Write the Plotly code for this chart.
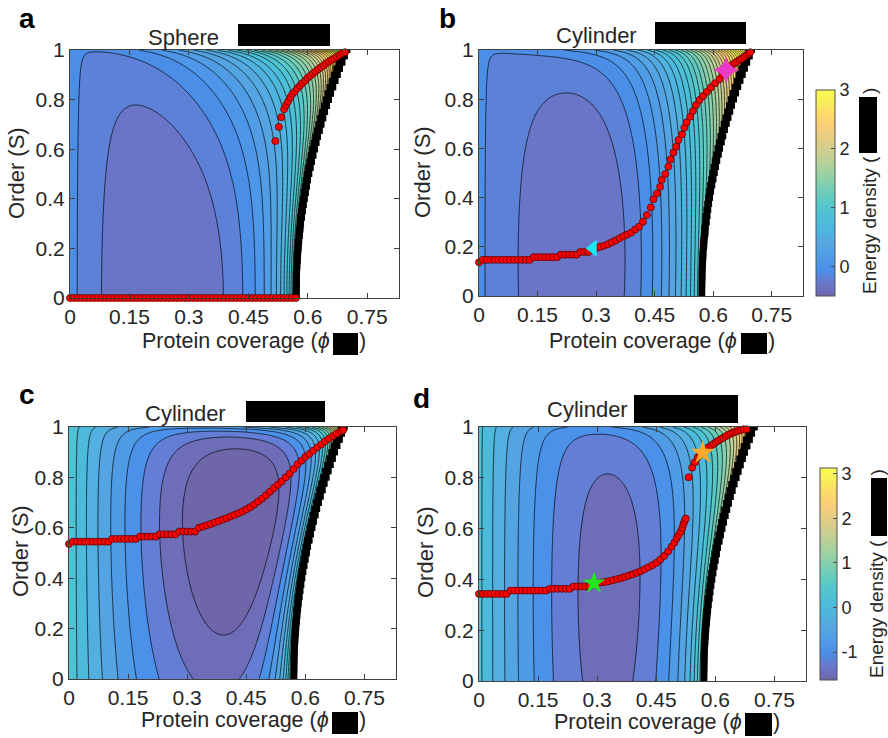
import numpy as np
import plotly.graph_objects as go

W_PX, H_PX = 888, 738

# ---------------- axis ticks ----------------
x_tickvals = [0, 0.15, 0.3, 0.45, 0.6, 0.75]
x_ticktext = ["0", "0.15", "0.3", "0.45", "0.6", "0.75"]
y_tickvals = [0, 0.2, 0.4, 0.6, 0.8, 1]
y_ticktext = ["0", "0.2", "0.4", "0.6", "0.8", "1"]

panel_letters = ["a", "b", "c", "d"]
panel_titles = ["Sphere", "Cylinder", "Cylinder", "Cylinder"]
x_label = "Protein coverage (<i>ϕ</i>"
y_label = "Order (S)"
cbar_label = "Energy density ("

# ---------------- contour-line crossings along S = 0 (coverage, energy level) ----------------
a_cross_phi = [0.018, 0.080, 0.386, 0.435, 0.469, 0.490, 0.507, 0.520, 0.532, 0.540]
a_cross_lev = [-0.125, -0.25, -0.25, -0.125, 0.0, 0.125, 0.25, 0.375, 0.5, 0.625]
b_cross_phi = [0.026, 0.082, 0.363, 0.413, 0.447, 0.468, 0.488, 0.504, 0.518, 0.531, 0.541, 0.550, 0.559, 0.567]
b_cross_lev = [-0.125, -0.25, -0.25, -0.125, 0.0, 0.125, 0.25, 0.375, 0.5, 0.625, 0.75, 0.875, 1.0, 1.125]
c_cross_phi = [0.0237, 0.0516, 0.0804, 0.1227, 0.176, 0.2225, 0.3325, 0.379, 0.495, 0.508, 0.523, 0.534, 0.542, 0.549, 0.556, 0.561]
c_cross_lev = [0.125, -0.125, -0.375, -0.625, -0.875, -1.125, -1.375, -1.375, -1.125, -0.875, -0.625, -0.375, -0.125, 0.125, 0.375, 0.625]
d_cross_phi = [0.0093, 0.036, 0.064, 0.098, 0.142, 0.189, 0.282, 0.400, 0.441, 0.480, 0.506, 0.523, 0.536, 0.546, 0.554, 0.561]
d_cross_lev = [0.125, -0.125, -0.375, -0.625, -0.875, -1.125, -1.375, -1.375, -1.125, -0.875, -0.625, -0.375, -0.125, 0.125, 0.375, 0.625]

# energy at phi = 0 and at the basin centre (S = 0), estimated from the band colours
edge_z = [-0.06, -0.06, 0.33, 0.2]
basin_phi = [0.2, 0.22, 0.355, 0.34]
basin_z = [-0.362, -0.35, -1.45, -1.47]

# orientational cost G, its growth with coverage C, and curvature/order coupling K per panel
G_vals = [0.577, 0.65, 1.8, 0.86]
C_vals = [1.5, 0.0, 0.0, 0.0]
K_vals = [0.0, 0.18, 3.0, 0.63]

# packing limit (white region): phi_max(S) = p0 + p2 * S^2
phimax_0, phimax_2 = 0.579, 0.128

# colour ranges (min, max, contour step)
crange = [(-0.5, 3.0, 0.125), (-0.5, 3.0, 0.125), (-1.625, 3.125, 0.25), (-1.625, 3.125, 0.25)]

# ---------------- minimum-energy paths (red dots) ----------------
a_low_phi = [0.00, 0.01, 0.02, 0.03, 0.04, 0.05, 0.06, 0.07, 0.08, 0.09, 0.10, 0.11, 0.12, 0.13, 0.14,
             0.15, 0.16, 0.17, 0.18, 0.19, 0.20, 0.21, 0.22, 0.23, 0.24, 0.25, 0.26, 0.27, 0.28, 0.29,
             0.30, 0.31, 0.32, 0.33, 0.34, 0.35, 0.36, 0.37, 0.38, 0.39, 0.40, 0.41, 0.42, 0.43, 0.44,
             0.45, 0.46, 0.47, 0.48, 0.49, 0.50, 0.51, 0.52, 0.53, 0.54, 0.55, 0.56, 0.57]
a_low_S = [0.0] * len(a_low_phi)
a_up_phi = [0.518, 0.527, 0.533, 0.540, 0.545, 0.550, 0.556, 0.561, 0.567, 0.573, 0.580, 0.586, 0.593, 0.599,
            0.606, 0.613, 0.619, 0.626, 0.633, 0.640, 0.646, 0.653, 0.660, 0.667, 0.673, 0.680, 0.687, 0.694]
a_up_S = [0.633, 0.690, 0.729, 0.761, 0.778, 0.792, 0.809, 0.823, 0.832, 0.845, 0.856, 0.866, 0.876, 0.887,
          0.896, 0.905, 0.913, 0.922, 0.930, 0.938, 0.946, 0.953, 0.960, 0.966, 0.973, 0.980, 0.987, 0.991]

b_phi = [0.00, 0.01, 0.02, 0.03, 0.04, 0.05, 0.06, 0.07, 0.08, 0.09, 0.10, 0.11, 0.12, 0.13, 0.14,
         0.15, 0.16, 0.17, 0.18, 0.19, 0.20, 0.21, 0.22, 0.23, 0.24, 0.25, 0.26, 0.27, 0.28, 0.29,
         0.30, 0.31, 0.32, 0.33, 0.34, 0.35, 0.36, 0.37, 0.38, 0.39, 0.40, 0.41, 0.42, 0.43, 0.44,
         0.447, 0.456, 0.464, 0.468, 0.477, 0.485, 0.491, 0.498, 0.505, 0.511, 0.520, 0.526, 0.532, 0.541,
         0.548, 0.556, 0.565, 0.574, 0.584, 0.594, 0.605, 0.616, 0.625, 0.633, 0.641, 0.648, 0.655, 0.661,
         0.668, 0.674, 0.680, 0.686, 0.691, 0.695]
b_S = [0.137, 0.147, 0.147, 0.147, 0.147, 0.147, 0.147, 0.147, 0.147, 0.147, 0.147, 0.147, 0.147, 0.147, 0.158,
       0.158, 0.158, 0.158, 0.158, 0.158, 0.158, 0.168, 0.168, 0.168, 0.168, 0.168, 0.179, 0.179, 0.179, 0.190,
       0.195, 0.200, 0.204, 0.210, 0.218, 0.226, 0.235, 0.243, 0.250, 0.258, 0.270, 0.282, 0.302, 0.329, 0.360,
       0.393, 0.417, 0.444, 0.472, 0.496, 0.526, 0.556, 0.583, 0.607, 0.634, 0.657, 0.684, 0.706, 0.729,
       0.752, 0.776, 0.797, 0.813, 0.830, 0.848, 0.865, 0.881, 0.900, 0.919, 0.929, 0.939, 0.946, 0.953,
       0.960, 0.966, 0.973, 0.980, 0.986, 0.991]

c_phi = [0.00, 0.01, 0.02, 0.03, 0.04, 0.05, 0.06, 0.07, 0.08, 0.09, 0.10, 0.11, 0.12, 0.13, 0.14,
         0.15, 0.16, 0.17, 0.18, 0.19, 0.20, 0.21, 0.22, 0.23, 0.24, 0.25, 0.26, 0.27, 0.28, 0.29,
         0.30, 0.31, 0.32, 0.33, 0.34, 0.35, 0.36, 0.37, 0.38, 0.39, 0.40, 0.41, 0.42, 0.43, 0.44,
         0.45, 0.46, 0.47, 0.48, 0.49, 0.50, 0.51, 0.52, 0.53, 0.54, 0.55, 0.56, 0.57, 0.58, 0.59,
         0.60, 0.61, 0.62, 0.63, 0.64, 0.65, 0.66, 0.67, 0.68, 0.69, 0.696]
c_S = [0.536, 0.545, 0.545, 0.545, 0.545, 0.545, 0.545, 0.545, 0.545, 0.545, 0.545, 0.556, 0.556, 0.556, 0.556,
       0.556, 0.556, 0.556, 0.565, 0.565, 0.565, 0.565, 0.565, 0.574, 0.574, 0.574, 0.574, 0.574, 0.585, 0.585,
       0.585, 0.585, 0.585, 0.600, 0.605, 0.610, 0.615, 0.621, 0.627, 0.633, 0.638, 0.645, 0.651, 0.658, 0.665,
       0.673, 0.682, 0.692, 0.704, 0.716, 0.729, 0.743, 0.758, 0.771, 0.784, 0.800, 0.815, 0.833, 0.852, 0.866,
       0.881, 0.893, 0.906, 0.919, 0.931, 0.943, 0.954, 0.964, 0.974, 0.983, 0.988]

d_low_phi = [0.00, 0.01, 0.02, 0.03, 0.04, 0.05, 0.06, 0.07, 0.08, 0.09, 0.10, 0.11, 0.12, 0.13, 0.14,
             0.15, 0.16, 0.17, 0.18, 0.19, 0.20, 0.21, 0.22, 0.23, 0.24, 0.25, 0.26, 0.27, 0.28, 0.292,
             0.30, 0.31, 0.32, 0.33, 0.34, 0.35, 0.36, 0.37, 0.38, 0.39, 0.40, 0.41, 0.42, 0.43, 0.44,
             0.45, 0.46, 0.47, 0.48, 0.489, 0.496, 0.502, 0.507, 0.512, 0.516, 0.519, 0.522, 0.525]
d_low_S = [0.343, 0.343, 0.343, 0.343, 0.343, 0.343, 0.343, 0.343, 0.356, 0.356, 0.356, 0.356, 0.356, 0.356, 0.356,
           0.356, 0.356, 0.356, 0.363, 0.363, 0.363, 0.363, 0.363, 0.363, 0.372, 0.372, 0.372, 0.372, 0.372, 0.380,
           0.385, 0.388, 0.390, 0.393, 0.397, 0.401, 0.405, 0.410, 0.415, 0.420, 0.426, 0.432, 0.440, 0.448, 0.456,
           0.465, 0.478, 0.492, 0.510, 0.529, 0.545, 0.562, 0.575, 0.588, 0.603, 0.618, 0.630, 0.640]
d_up_phi = [0.532, 0.541, 0.548, 0.555, 0.561, 0.568, 0.575, 0.582, 0.589, 0.595, 0.601, 0.607, 0.614, 0.620,
            0.627, 0.633, 0.639, 0.645, 0.652, 0.658, 0.664, 0.671, 0.679]
d_up_S = [0.802, 0.840, 0.861, 0.881, 0.890, 0.899, 0.910, 0.920, 0.927, 0.933, 0.940, 0.946, 0.952, 0.958,
          0.964, 0.969, 0.974, 0.978, 0.982, 0.985, 0.988, 0.991, 0.991]

# highlighted states
b_tri = (0.292, 0.194)
b_star4 = (0.633, 0.919)
d_star_green = (0.292, 0.385)
d_star_orange = (0.568, 0.899)

# ---------------- colormap: parula seen through ~70 % opaque fill ----------------
parula_idx = [0, 4, 8, 12, 16, 20, 24, 28, 32, 36, 40, 44, 48, 52, 56, 60, 63]
parula_rgb = [(0.2081, 0.1663, 0.5292), (0.1959, 0.2645, 0.7279), (0.0117, 0.3875, 0.8820),
              (0.0498, 0.4586, 0.8641), (0.0793, 0.5200, 0.8312), (0.0343, 0.5966, 0.8199),
              (0.0228, 0.6535, 0.7768), (0.0843, 0.6928, 0.7062), (0.2178, 0.7250, 0.6193),
              (0.3953, 0.7459, 0.5244), (0.5709, 0.7485, 0.4494), (0.7184, 0.7411, 0.3905),
              (0.8507, 0.7299, 0.3360), (0.9739, 0.7314, 0.2666), (0.9880, 0.8066, 0.1794),
              (0.9598, 0.9218, 0.0948), (0.9763, 0.9831, 0.0538)]
ALPHA = 0.72
CS = [[i / 63.0, "rgb(%d,%d,%d)" % tuple(int(round(255 * (ALPHA * c + 1 - ALPHA))) for c in rgb)]
      for i, rgb in zip(parula_idx, parula_rgb)]

# ---------------- energy surface ----------------
PHI = np.linspace(0.0, 0.83, 250)
SGR = np.linspace(0.0, 1.0, 101)
ZCAP = 12.0
NPACK = 6
WSIG, DSIG = 0.6, 0.02


def phim(S):
    return phimax_0 + phimax_2 * np.asarray(S, float) ** 2


def pack(phi, S):
    phi = np.asarray(phi, float)
    u = np.clip((phi / phim(S)) ** NPACK, 0.0, 0.9995)
    return -phi * np.log1p(-u)


def orient(S):
    return ((1 - WSIG) * S ** 2 - WSIG * np.log(1.0 - S ** 2 + DSIG) + WSIG * np.log(1.0 + DSIG))


def plogp(p):
    p = np.asarray(p, float)
    return np.where(p > 0, p * np.log(np.where(p > 0, p, 1.0)), 0.0)


def fit_profile(cphi, clev, z_edge, mphi, mz):
    p = np.array(list(cphi) + [mphi, mphi])
    y = np.array(list(clev) + [mz, mz]) - z_edge
    A = np.column_stack([p, p ** 2, p ** 3, plogp(p), pack(p, 0.0)])
    return np.linalg.lstsq(A, y, rcond=None)[0]


def surface(coef, z_edge, G, C, K):
    P, S = np.meshgrid(PHI, SGR)
    z = (z_edge + coef[0] * P + coef[1] * P ** 2 + coef[2] * P ** 3 + coef[3] * plogp(P)
         + coef[4] * pack(P, S) + P * (1 + C * P) * (G * orient(S) - K * S))
    z = np.where(P >= phim(S), ZCAP, np.minimum(z, ZCAP))
    return np.round(z, 4)


# staircase outline of the undefined region (white) and of the crowded-line band (black)
SM = np.round(np.arange(41) * 0.025, 4)


def stair_polygons():
    lims = phim(SM)
    bands = 0.017 + 0.008 * SM
    edges = [-0.05] + list((SM[:-1] + SM[1:]) / 2) + [1.05]
    wx, wy = [0.95], [-0.05]
    bx, by = [], []
    for j in range(len(SM)):
        wx += [lims[j], lims[j]]
        wy += [edges[j], edges[j + 1]]
        bx += [lims[j], lims[j]]
        by += [edges[j], edges[j + 1]]
    wx += [0.95]
    wy += [1.05]
    for j in reversed(range(len(SM))):
        bx += [lims[j] - bands[j], lims[j] - bands[j]]
        by += [edges[j + 1], edges[j]]
    return (wx, wy), (bx, by)


crosses = [(a_cross_phi, a_cross_lev), (b_cross_phi, b_cross_lev),
           (c_cross_phi, c_cross_lev), (d_cross_phi, d_cross_lev)]

# ---------------- layout geometry (pixels) ----------------
boxes = [(70, 50, 399, 298), (479, 50, 803, 296), (69, 427, 396, 679), (479, 427, 806, 681)]


def fx(x):
    return x / W_PX


def fy(y):
    return 1 - y / H_PX


fig = go.Figure()
(WX, WY), (BX, BY) = stair_polygons()
FONT = "Liberation Sans, Arial, sans-serif"
TXT = "#262626"

for i in range(4):
    xa = "x" if i == 0 else "x%d" % (i + 1)
    ya = "y" if i == 0 else "y%d" % (i + 1)
    cmin, cmax, step = crange[i]
    coef = fit_profile(crosses[i][0], crosses[i][1], edge_z[i], basin_phi[i], basin_z[i])
    Z = surface(coef, edge_z[i], G_vals[i], C_vals[i], K_vals[i])
    fig.add_trace(go.Contour(
        x=PHI, y=SGR, z=Z, xaxis=xa, yaxis=ya, colorscale=CS, zmin=cmin, zmax=cmax,
        autocontour=False, contours=dict(start=cmin, end=ZCAP - 0.1, size=step, coloring="fill", showlines=True),
        line=dict(color="#000000", width=0.7, smoothing=0.6),
        showscale=False, hoverinfo="skip"))
    fig.add_trace(go.Scatter(x=WX, y=WY, xaxis=xa, yaxis=ya, mode="lines", fill="toself",
                             fillcolor="#ffffff", line=dict(width=0, color="#ffffff"), hoverinfo="skip"))
    fig.add_trace(go.Scatter(x=BX, y=BY, xaxis=xa, yaxis=ya, mode="lines", fill="toself",
                             fillcolor="#000000", line=dict(width=0, color="#000000"), hoverinfo="skip"))

dot_style = dict(mode="markers", cliponaxis=False, hoverinfo="skip",
                 marker=dict(size=7, color="#ff0000", line=dict(color="#5a0000", width=0.8)))
fig.add_trace(go.Scatter(x=a_low_phi, y=a_low_S, xaxis="x", yaxis="y", **dot_style))
fig.add_trace(go.Scatter(x=a_up_phi, y=a_up_S, xaxis="x", yaxis="y", **dot_style))
fig.add_trace(go.Scatter(x=b_phi, y=b_S, xaxis="x2", yaxis="y2", **dot_style))
fig.add_trace(go.Scatter(x=c_phi, y=c_S, xaxis="x3", yaxis="y3", **dot_style))
fig.add_trace(go.Scatter(x=d_low_phi, y=d_low_S, xaxis="x4", yaxis="y4", **dot_style))
fig.add_trace(go.Scatter(x=d_up_phi, y=d_up_S, xaxis="x4", yaxis="y4", **dot_style))

fig.add_trace(go.Scatter(x=[b_tri[0]], y=[b_tri[1]], xaxis="x2", yaxis="y2", mode="markers", hoverinfo="skip",
                         marker=dict(symbol="triangle-left", size=15, color="#19e6f0", line=dict(width=0))))
fig.add_trace(go.Scatter(x=[b_star4[0]], y=[b_star4[1]], xaxis="x2", yaxis="y2", mode="markers", hoverinfo="skip",
                         marker=dict(symbol="star-diamond", size=19, color="#e83cc8", line=dict(width=0))))
fig.add_trace(go.Scatter(x=[d_star_green[0]], y=[d_star_green[1]], xaxis="x4", yaxis="y4", mode="markers",
                         hoverinfo="skip", marker=dict(symbol="star", size=17, color="#22e622", line=dict(width=0))))
fig.add_trace(go.Scatter(x=[d_star_orange[0]], y=[d_star_orange[1]], xaxis="x4", yaxis="y4", mode="markers",
                         hoverinfo="skip", marker=dict(symbol="star", size=18, color="#ffaa2a", line=dict(width=0))))

# continuous colour bars (hidden one-cell heatmaps outside the visible range)
cbars = [(1, (816, 90, 835, 296), [0, 1, 2, 3]), (3, (820, 468, 837, 680), [-1, 0, 1, 2, 3])]
for idx, (x0, y0, x1, y1), tv in cbars:
    cmin, cmax, _ = crange[idx]
    xa = "x%d" % (idx + 1)
    ya = "y%d" % (idx + 1)
    fig.add_trace(go.Heatmap(
        x=[5, 6], y=[5, 6], z=[[cmin, cmax], [cmin, cmax]], xaxis=xa, yaxis=ya, colorscale=CS,
        zmin=cmin, zmax=cmax, hoverinfo="skip",
        colorbar=dict(x=fx(x0), xanchor="left", xpad=0, y=fy(y1), yanchor="bottom", ypad=0,
                      len=(y1 - y0) / H_PX, lenmode="fraction", thickness=x1 - x0, thicknessmode="pixels",
                      outlinewidth=1, outlinecolor="#505050", ticks="inside", ticklen=4, tickcolor="#505050",
                      tickvals=tv, ticktext=[str(v) for v in tv],
                      tickfont=dict(size=18, color=TXT, family=FONT))))

layout = dict(width=W_PX, height=H_PX, margin=dict(l=0, r=0, t=0, b=0, pad=0, autoexpand=False),
              paper_bgcolor="white", plot_bgcolor="white", showlegend=False, hovermode=False,
              font=dict(family=FONT, color=TXT))
for i, (x0, y0, x1, y1) in enumerate(boxes):
    sx = "" if i == 0 else str(i + 1)
    layout["xaxis" + sx] = dict(domain=[fx(x0), fx(x1)], anchor="y" + sx, range=[0, 0.83],
                                tickvals=x_tickvals, ticktext=x_ticktext, ticks="inside", ticklen=5,
                                tickcolor="#404040", showline=True, linecolor="#404040", linewidth=1,
                                mirror="allticks", showgrid=False, zeroline=False,
                                tickfont=dict(size=21, color=TXT), fixedrange=True)
    layout["yaxis" + sx] = dict(domain=[fy(y1), fy(y0)], anchor="x" + sx, range=[0, 1],
                                tickvals=y_tickvals, ticktext=y_ticktext, ticks="inside", ticklen=5,
                                tickcolor="#404040", showline=True, linecolor="#404040", linewidth=1,
                                mirror="allticks", showgrid=False, zeroline=False,
                                tickfont=dict(size=21, color=TXT), fixedrange=True)

ann = []
shapes = []


def text(t, x, y, size, xanchor="center", angle=0, bold=False):
    ann.append(dict(text=("<b>%s</b>" % t) if bold else t, x=fx(x), y=fy(y), xref="paper", yref="paper",
                    xanchor=xanchor, yanchor="middle", showarrow=False, textangle=angle, borderpad=0,
                    font=dict(size=size, color="#000000" if bold else TXT, family=FONT)))


def rect(x0, y0, x1, y1):
    shapes.append(dict(type="rect", xref="paper", yref="paper", x0=fx(x0), x1=fx(x1), y0=fy(y1), y1=fy(y0),
                       fillcolor="#000000", line=dict(width=0), layer="above"))


letter_pos = [(27, 18.5), (448, 18.5), (27, 394), (421, 398)]
title_pos = [(183, 37.5), (596, 35.5), (185, 413.5), (587, 409)]
title_box = [(238, 24, 330, 46), (655, 22, 746, 44), (246, 401, 325, 422), (634, 395, 738, 423)]
xlab_pos = [(331, 341, (333, 333, 358, 355), 358), (738, 341, (741, 333, 767, 354), 767),
            (330, 720, (332, 712, 358, 734), 358), (743, 722, (745, 713, 772, 736), 772)]
ylab_pos = [(16, 173), (423, 172), (20, 551), (425, 552)]

for i in range(4):
    text(panel_letters[i], letter_pos[i][0], letter_pos[i][1], 28, bold=True)
    text(panel_titles[i], title_pos[i][0], title_pos[i][1], 22)
    rect(*title_box[i])
    xr, yl, bx, xp = xlab_pos[i]
    text(x_label, xr, yl, 21.5, xanchor="right")
    rect(*bx)
    text(")", xp, yl, 21.5, xanchor="left")
    text(y_label, ylab_pos[i][0], ylab_pos[i][1], 22, angle=-90)

# colour-bar labels
text(cbar_label, 869, 225, 19, angle=-90)
rect(859, 97, 877, 153)
text(")", 869, 91, 19, angle=-90)
text(cbar_label, 888, 609.5, 19, xanchor="right", angle=-90)
rect(871, 478, 887, 536)
text(")", 888, 473, 19, xanchor="right", angle=-90)

layout["annotations"] = ann
layout["shapes"] = shapes
fig.update_layout(**layout)
fig.write_html("out.html")
